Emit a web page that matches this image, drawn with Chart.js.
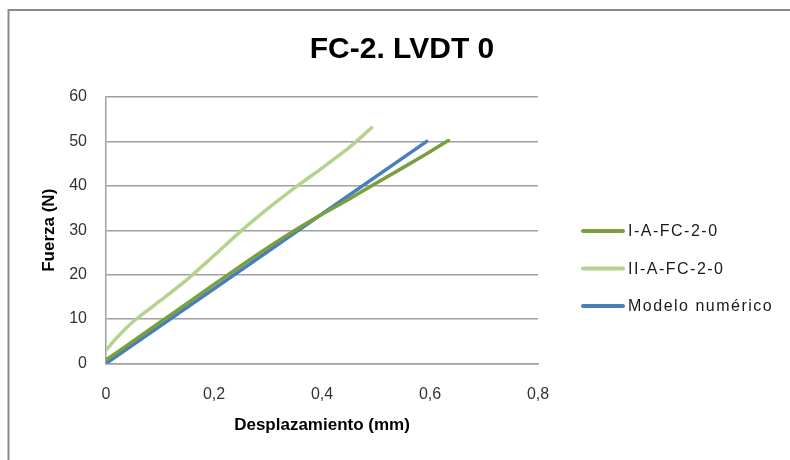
<!DOCTYPE html>
<html>
<head>
<meta charset="utf-8">
<script src="https://cdn.jsdelivr.net/npm/chart.js@4/dist/chart.umd.min.js"></script>
<style>
  html, body { margin: 0; padding: 0; background: #fff; }
  #wrap { width: 790px; height: 460px; position: relative; }
</style>
</head>
<body>
<div id="wrap"><canvas id="chart" width="790" height="460"></canvas></div>
<script>
// Ensayo FC-2, LVDT 0: desplazamiento (mm) frente a fuerza (N)
const chartTitle = 'FC-2. LVDT 0';
const xTitle = 'Desplazamiento (mm)';
const yTitle = 'Fuerza (N)';

const xTickValues = [0, 0.2, 0.4, 0.6, 0.8];
const xTickLabels = ['0', '0,2', '0,4', '0,6', '0,8'];
const yTickValues = [0, 10, 20, 30, 40, 50, 60];
const yTickLabels = ['0', '10', '20', '30', '40', '50', '60'];

const seriesNames = ['I-A-FC-2-0', 'II-A-FC-2-0', 'Modelo numérico'];
const seriesColors = ['#7aa03e', '#b6d28f', '#4a7ebb'];

// I-A-FC-2-0
const despI = [0, 0.05, 0.10, 0.15, 0.20, 0.25, 0.30, 0.35, 0.40, 0.45, 0.50, 0.55, 0.60, 0.634];
const fuerzaI = [0.8, 5.0, 9.3, 13.5, 17.8, 22.0, 26.1, 30.0, 33.6, 37.0, 40.6, 44.1, 47.7, 50.2];

// II-A-FC-2-0
const despII = [0, 0.02, 0.05, 0.10, 0.15, 0.20, 0.25, 0.30, 0.35, 0.40, 0.45, 0.492];
const fuerzaII = [3.0, 5.8, 9.4, 14.1, 18.9, 24.3, 29.8, 34.9, 39.6, 44.0, 48.6, 53.1];

// Modelo numérico
const despM = [0, 0.594];
const fuerzaM = [0, 50.0];

const toXY = (xs, ys) => xs.map((x, i) => ({ x: x, y: ys[i] }));

const FONT = "'Liberation Sans', Arial, sans-serif";
const GRID = '#a0a0a0';

const frameAndLegend = {
  id: 'frameAndLegend',
  beforeDraw(chart) {
    const ctx = chart.ctx;
    ctx.save();
    ctx.strokeStyle = '#8a8a8a';
    ctx.lineWidth = 2;
    ctx.beginPath();
    ctx.moveTo(8.5, 460);
    ctx.lineTo(8.5, 10);
    ctx.lineTo(790, 10);
    ctx.stroke();
    ctx.restore();
  },
  afterDraw(chart) {
    const ctx = chart.ctx;
    ctx.save();
    // título
    ctx.fillStyle = '#000';
    ctx.font = "bold 30px " + FONT;
    ctx.textAlign = 'center';
    ctx.textBaseline = 'middle';
    ctx.fillText(chartTitle, 402, 50);
    // leyenda
    ctx.font = "16px " + FONT;
    ctx.letterSpacing = '1.5px';
    ctx.textAlign = 'left';
    chart.data.datasets.forEach((ds, i) => {
      const y = 231 + i * 37.5;
      ctx.strokeStyle = ds.borderColor;
      ctx.lineWidth = 4;
      ctx.lineCap = 'round';
      ctx.beginPath();
      ctx.moveTo(583, y);
      ctx.lineTo(623, y);
      ctx.stroke();
      ctx.fillStyle = '#1a1a1a';
      ctx.fillText(ds.label, 628, y + 1);
    });
    ctx.restore();
  }
};

new Chart(document.getElementById('chart'), {
  type: 'scatter',
  data: {
    datasets: [
      { label: seriesNames[0], data: toXY(despI, fuerzaI) },
      { label: seriesNames[1], data: toXY(despII, fuerzaII) },
      { label: seriesNames[2], data: toXY(despM, fuerzaM) }
    ].map((ds, i) => Object.assign(ds, {
      showLine: true,
      borderColor: seriesColors[i],
      backgroundColor: seriesColors[i],
      borderWidth: 3.5,
      borderCapStyle: 'round',
      pointRadius: 0,
      tension: 0.25
    }))
  },
  options: {
    responsive: false,
    animation: false,
    layout: { padding: { top: 97, right: 252, bottom: 0, left: 0 } },
    plugins: { legend: { display: false }, title: { display: false }, tooltip: { enabled: false } },
    scales: {
      x: {
        type: 'linear', min: 0, max: 0.8,
        afterBuildTicks: (s) => { s.ticks = xTickValues.map(v => ({ value: v })); },
        afterFit: (s) => { s.height = 96.5; },
        ticks: {
          padding: 21,
          color: '#333',
          font: { family: FONT, size: 16 },
          callback: (v) => xTickLabels[xTickValues.indexOf(v)]
        },
        grid: { display: false, drawTicks: false },
        border: { display: true, color: GRID, width: 1.5 },
        title: { display: true, text: xTitle, color: '#000', font: { family: FONT, size: 17, weight: 'bold' }, padding: { top: 0, bottom: 24 } }
      },
      y: {
        type: 'linear', min: 0, max: 60,
        afterBuildTicks: (s) => { s.ticks = yTickValues.map(v => ({ value: v })); },
        afterFit: (s) => { s.width = 106; },
        ticks: {
          padding: 19,
          color: '#333',
          font: { family: FONT, size: 16 },
          callback: (v) => yTickLabels[yTickValues.indexOf(v)]
        },
        grid: { color: GRID, lineWidth: 1.5, drawTicks: false },
        border: { display: true, color: GRID, width: 1.5 },
        title: { display: true, text: yTitle, color: '#000', font: { family: FONT, size: 17, weight: 'bold' }, padding: { top: 39, bottom: 0 } }
      }
    }
  },
  plugins: [frameAndLegend]
});
</script>
</body>
</html>
